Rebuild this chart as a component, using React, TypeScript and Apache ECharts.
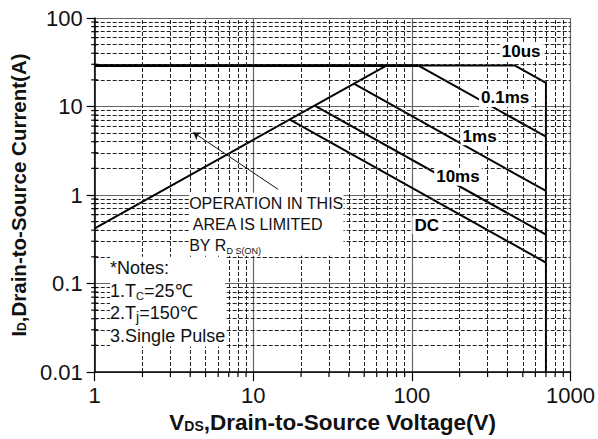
import React, { useEffect, useRef } from 'react';
import * as echarts from 'echarts';

const FONT = '"Liberation Sans", Arial, Helvetica, sans-serif';

// Tick labels
const xTickLabels = ['1', '10', '100', '1000'];
const yTickLabels = ['0.01', '0.1', '1', '10', '100'];

// Minor grid / tick values
const xMinor = [2, 3, 4, 5, 6, 7, 8, 9, 20, 30, 40, 50, 60, 70, 80, 90, 200, 300, 400, 500, 600, 700, 800, 900];
const yMinor = [
  0.02, 0.03, 0.04, 0.05, 0.06, 0.07, 0.08, 0.09,
  0.2, 0.3, 0.4, 0.5, 0.6, 0.7, 0.8, 0.9,
  2, 3, 4, 5, 6, 7, 8, 9,
  20, 30, 40, 50, 60, 70, 80, 90,
];

// SOA boundary curves (VDS [V], ID [A])
const currentLimit = [[1, 29], [110, 29]];
const pulse10us = [[110, 29], [447, 29], [700, 18.5], [700, 0.01]];
const rdsOnLimit = [[1, 0.42], [69, 29]];
const pulse01ms = [[110, 29], [700, 4.56]];
const pulse1ms = [[43, 18.1], [700, 1.11]];
const pulse10ms = [[24.4, 10.25], [700, 0.357]];
const dcLine = [[17, 7.1], [700, 0.172]];

// Curve labels: [text, VDS, ID]
const curveLabelText = ['10us', '0.1ms', '1ms', '10ms', 'DC'];
const curveLabelPos = [[488, 41.5], [387, 12.5], [267, 4.6], [195, 1.61], [124, 0.458]];

// Annotation anchor points
const noteAnchor = [1.25, 0.2];
const rdsNoteAnchor = [3.94, 1.06];
const arrowFrom = [14.3, 1.16];
const arrowTo = [4.18, 5.1];

function logIndex(v: number) {
  return Math.round(Math.log10(v));
}

export default function App() {
  const ref = useRef<HTMLDivElement>(null);
  useEffect(() => {
    if (!ref.current) return;
    const chart = echarts.init(ref.current, undefined, { renderer: 'svg' });
    const black = '#000';
    const curve = (data: number[][], width = 2) => ({
      type: 'line',
      data,
      showSymbol: false,
      symbol: 'none',
      z: 4,
      lineStyle: { color: black, width },
      silent: true,
    });
    const nameRich = (size: number) => ({
      b: { fontSize: size, fontWeight: 'bold', color: '#111', fontFamily: FONT },
      s: { fontSize: Math.round(size * 0.6), fontWeight: 'bold', color: '#111', fontFamily: FONT, verticalAlign: 'bottom', padding: [0, 0, 1, 0] },
    });
    chart.setOption({
      animation: false,
      backgroundColor: '#fff',
      textStyle: { fontFamily: FONT },
      grid: { left: 92, top: 18, width: 482, height: 355, containLabel: false },
      xAxis: {
        type: 'log',
        logBase: 10,
        min: 1,
        max: 1000,
        axisLine: { show: true, onZero: false, lineStyle: { color: black, width: 1.5 } },
        axisTick: { show: true, length: 9, lineStyle: { color: black, width: 1.2 } },
        axisLabel: {
          fontSize: 22,
          color: '#111',
          margin: 12,
          fontFamily: FONT,
          formatter: (v: number) => xTickLabels[logIndex(v)] ?? '',
        },
        splitLine: { show: true, lineStyle: { color: '#666', width: 1.2 } },
        name: '{b|V}{s|DS}{b|,Drain-to-Source Voltage(V)}',
        nameLocation: 'middle',
        nameGap: 39,
        nameTextStyle: { rich: nameRich(22.5) },
      },
      yAxis: {
        type: 'log',
        logBase: 10,
        min: 0.01,
        max: 100,
        axisLine: { show: true, onZero: false, lineStyle: { color: black, width: 1.5 } },
        axisTick: { show: true, length: 8, lineStyle: { color: black, width: 1.2 } },
        axisLabel: {
          fontSize: 22,
          color: '#111',
          margin: 12,
          fontFamily: FONT,
          formatter: (v: number) => yTickLabels[logIndex(v) + 2] ?? '',
        },
        splitLine: { show: true, lineStyle: { color: '#666', width: 1.2 } },
        name: '{b|I}{s|D}{b|,Drain-to-Source Current(A)}',
        nameLocation: 'middle',
        nameRotate: 90,
        nameGap: 59,
        nameTextStyle: { rich: nameRich(20.5) },
      },
      series: [
        {
          type: 'line',
          data: [],
          z: 1,
          silent: true,
          markLine: {
            silent: true,
            symbol: ['none', 'none'],
            label: { show: false },
            animation: false,
            lineStyle: { type: [4, 2], color: '#222', width: 1 },
            data: [
              ...xMinor.map((v) => ({ xAxis: v })),
              ...yMinor.map((v) => ({ yAxis: v })),
            ],
          },
        },
        {
          type: 'scatter',
          data: xMinor.map((v) => [v, 0.01]),
          symbol: 'rect',
          symbolSize: [1.2, 5],
          symbolOffset: [0, 2.5],
          itemStyle: { color: black, opacity: 1 },
          clip: false,
          silent: true,
          z: 5,
        },
        {
          type: 'scatter',
          data: yMinor.map((v) => [1, v]),
          symbol: 'rect',
          symbolSize: [7, 1.2],
          itemStyle: { color: black, opacity: 1 },
          clip: false,
          silent: true,
          z: 5,
        },
        curve(currentLimit, 3),
        curve(pulse10us),
        curve(rdsOnLimit),
        curve(pulse01ms),
        curve(pulse1ms),
        curve(pulse10ms),
        curve(dcLine),
        {
          type: 'line',
          data: [],
          z: 6,
          silent: true,
          markLine: {
            silent: true,
            animation: false,
            symbolSize: 7,
            label: { show: false },
            lineStyle: { type: 'solid', color: '#111', width: 1 },
            data: [[
              { coord: arrowFrom, symbol: 'none' },
              { coord: arrowTo, symbol: 'arrow' },
            ]],
          },
        },
        {
          type: 'scatter',
          symbolSize: 0,
          z: 10,
          silent: true,
          clip: false,
          itemStyle: { opacity: 1 },
          data: curveLabelText.map((t, i) => ({ value: curveLabelPos[i], name: t })),
          label: {
            show: true,
            position: 'inside',
            formatter: (p: any) => p.name,
            fontSize: 17,
            fontWeight: 'bold',
            color: '#000',
            fontFamily: FONT,
            backgroundColor: '#fff',
            padding: [1, 2, 0, 2],
          },
        },
        {
          type: 'scatter',
          symbolSize: 0,
          z: 10,
          silent: true,
          clip: false,
          itemStyle: { opacity: 1 },
          data: [
            {
              value: rdsNoteAnchor,
              label: {
                formatter: 'OPERATION IN THIS\n AREA IS LIMITED\nBY R{sub|D S(ON)}',
                rich: {
                  sub: { fontSize: 9, color: '#111', fontFamily: FONT, verticalAlign: 'bottom', lineHeight: 21 },
                },
                fontSize: 16,
                lineHeight: 21,
              },
            },
            {
              value: noteAnchor,
              label: {
                formatter: '*Notes:\n1.T{sub|C}=25℃\n2.T{j|j}=150℃\n3.Single Pulse',
                rich: {
                  sub: { fontSize: 11, color: '#111', fontFamily: FONT, verticalAlign: 'bottom', lineHeight: 22.5 },
                  j: { fontSize: 14, color: '#111', fontFamily: FONT, verticalAlign: 'bottom', lineHeight: 22.5 },
                },
                fontSize: 18,
                lineHeight: 22.5,
              },
            },
          ],
          label: {
            show: true,
            position: [0, 0],
            align: 'left',
            verticalAlign: 'top',
            color: '#111',
            fontFamily: FONT,
            backgroundColor: '#fff',
          },
        },
      ],
    });
    return () => chart.dispose();
  }, []);
  return <div ref={ref} style={{ position: 'fixed', left: 0, top: 0, width: 598, height: 439 }} />;
}
